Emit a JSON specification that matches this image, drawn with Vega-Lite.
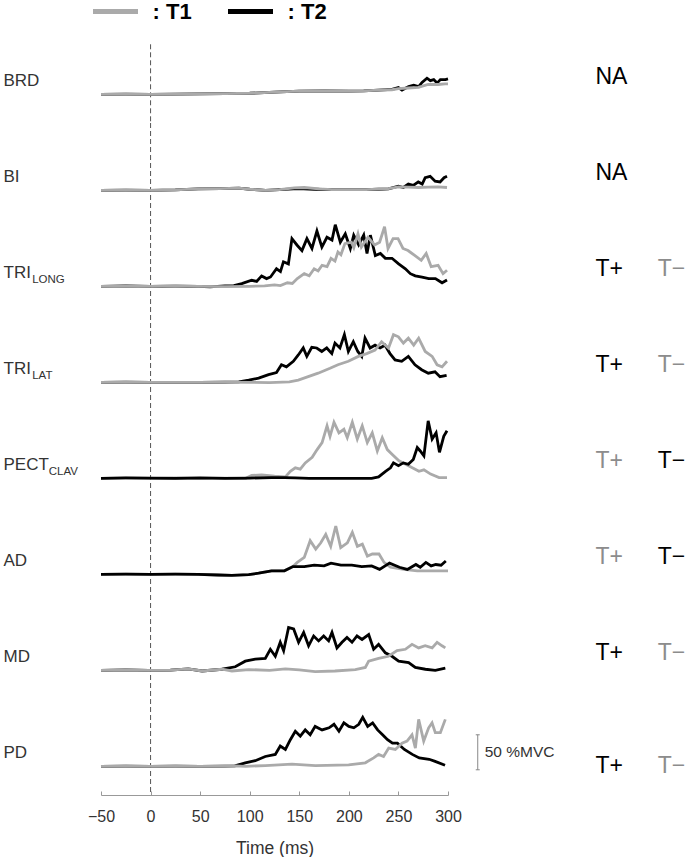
{
"$schema":"https://vega.github.io/schema/vega-lite/v6.json",
"padding":{"left":3,"top":0,"right":0,"bottom":0},
"autosize":{"type":"pad"},
"bounds":"flush",
"config":{"view":{"stroke":null},"font":"Liberation Sans","axis":{"grid":false},
"axisX":{"title":"Time (ms)","values":[-50,0,50,100,150,200,250,300],"labelFlush":false,"domainColor":"#999","tickColor":"#999","tickSize":-4,"labelPadding":17,"labelFontSize":16,"labelColor":"#333","titleFontSize":17.5,"titleFontWeight":"normal","titleColor":"#333","titlePadding":15}},
"data":{"values":[
{"m":"BRD","name":"BRD","r1":"NA","c1":"T2"},
{"m":"BI","name":"BI","r1":"NA","c1":"T2"},
{"m":"TRI_LONG","name":"TRI","sub":"LONG","r1":"T+","c1":"T2","r2":"T−","c2":"T1"},
{"m":"TRI_LAT","name":"TRI","sub":"LAT","r1":"T+","c1":"T2","r2":"T−","c2":"T1"},
{"m":"PECT","name":"PECT","sub":"CLAV","r1":"T+","c1":"T1","r2":"T−","c2":"T2"},
{"m":"AD","name":"AD","r1":"T+","c1":"T1","r2":"T−","c2":"T2"},
{"m":"MD","name":"MD","r1":"T+","c1":"T2","r2":"T−","c2":"T1"},
{"m":"PD","name":"PD","r1":"T+","c1":"T2","r2":"T−","c2":"T1"},
{"m":"BRD","s":"T2","t":-50,"v":0},{"m":"BRD","s":"T2","t":-25,"v":0.3},{"m":"BRD","s":"T2","t":0,"v":0},{"m":"BRD","s":"T2","t":25,"v":0.2},{"m":"BRD","s":"T2","t":50,"v":0.5},{"m":"BRD","s":"T2","t":75,"v":1},{"m":"BRD","s":"T2","t":100,"v":1.5},{"m":"BRD","s":"T2","t":125,"v":3},{"m":"BRD","s":"T2","t":150,"v":4.5},{"m":"BRD","s":"T2","t":175,"v":5},{"m":"BRD","s":"T2","t":200,"v":4.5},{"m":"BRD","s":"T2","t":215,"v":5},{"m":"BRD","s":"T2","t":230,"v":6},{"m":"BRD","s":"T2","t":243.5,"v":7},{"m":"BRD","s":"T2","t":250,"v":9.5},{"m":"BRD","s":"T2","t":253.6,"v":6},{"m":"BRD","s":"T2","t":260.3,"v":11},{"m":"BRD","s":"T2","t":265.4,"v":13},{"m":"BRD","s":"T2","t":270.4,"v":11},{"m":"BRD","s":"T2","t":273.8,"v":17},{"m":"BRD","s":"T2","t":278.8,"v":23},{"m":"BRD","s":"T2","t":282.2,"v":19.5},{"m":"BRD","s":"T2","t":285.6,"v":21},{"m":"BRD","s":"T2","t":289,"v":16},{"m":"BRD","s":"T2","t":292.3,"v":21},{"m":"BRD","s":"T2","t":297.4,"v":21},{"m":"BRD","s":"T2","t":300,"v":22},
{"m":"BRD","s":"T1","t":-50,"v":0},{"m":"BRD","s":"T1","t":-25,"v":0.3},{"m":"BRD","s":"T1","t":0,"v":0},{"m":"BRD","s":"T1","t":25,"v":0.2},{"m":"BRD","s":"T1","t":50,"v":0.5},{"m":"BRD","s":"T1","t":75,"v":1},{"m":"BRD","s":"T1","t":100,"v":1.5},{"m":"BRD","s":"T1","t":125,"v":3},{"m":"BRD","s":"T1","t":150,"v":4.5},{"m":"BRD","s":"T1","t":175,"v":5},{"m":"BRD","s":"T1","t":200,"v":4.5},{"m":"BRD","s":"T1","t":215,"v":5},{"m":"BRD","s":"T1","t":230,"v":6},{"m":"BRD","s":"T1","t":243.5,"v":6.5},{"m":"BRD","s":"T1","t":250,"v":8},{"m":"BRD","s":"T1","t":260,"v":9},{"m":"BRD","s":"T1","t":270,"v":10},{"m":"BRD","s":"T1","t":280,"v":14},{"m":"BRD","s":"T1","t":290,"v":14},{"m":"BRD","s":"T1","t":297,"v":15},{"m":"BRD","s":"T1","t":300,"v":15},
{"m":"BI","s":"T2","t":-50,"v":0},{"m":"BI","s":"T2","t":-25,"v":0.3},{"m":"BI","s":"T2","t":0,"v":0},{"m":"BI","s":"T2","t":25,"v":0.5},{"m":"BI","s":"T2","t":48,"v":2},{"m":"BI","s":"T2","t":70,"v":2.5},{"m":"BI","s":"T2","t":89,"v":3},{"m":"BI","s":"T2","t":100,"v":1.5},{"m":"BI","s":"T2","t":116,"v":0},{"m":"BI","s":"T2","t":130,"v":1},{"m":"BI","s":"T2","t":149,"v":2.4},{"m":"BI","s":"T2","t":165,"v":1.5},{"m":"BI","s":"T2","t":183,"v":1},{"m":"BI","s":"T2","t":200,"v":1},{"m":"BI","s":"T2","t":217,"v":1},{"m":"BI","s":"T2","t":230,"v":1.5},{"m":"BI","s":"T2","t":240,"v":2},{"m":"BI","s":"T2","t":250,"v":6},{"m":"BI","s":"T2","t":255,"v":4},{"m":"BI","s":"T2","t":260,"v":9},{"m":"BI","s":"T2","t":265,"v":7},{"m":"BI","s":"T2","t":270,"v":12},{"m":"BI","s":"T2","t":274,"v":9},{"m":"BI","s":"T2","t":277,"v":18},{"m":"BI","s":"T2","t":282,"v":20},{"m":"BI","s":"T2","t":287,"v":13},{"m":"BI","s":"T2","t":292,"v":12},{"m":"BI","s":"T2","t":296,"v":18},{"m":"BI","s":"T2","t":299,"v":20},
{"m":"BI","s":"T1","t":-50,"v":0},{"m":"BI","s":"T1","t":-25,"v":0.3},{"m":"BI","s":"T1","t":0,"v":0},{"m":"BI","s":"T1","t":25,"v":0.5},{"m":"BI","s":"T1","t":48,"v":2},{"m":"BI","s":"T1","t":70,"v":2.5},{"m":"BI","s":"T1","t":89,"v":3},{"m":"BI","s":"T1","t":100,"v":1.5},{"m":"BI","s":"T1","t":116,"v":0},{"m":"BI","s":"T1","t":130,"v":1},{"m":"BI","s":"T1","t":145,"v":3.5},{"m":"BI","s":"T1","t":155,"v":4},{"m":"BI","s":"T1","t":170,"v":2},{"m":"BI","s":"T1","t":183,"v":1},{"m":"BI","s":"T1","t":200,"v":1},{"m":"BI","s":"T1","t":217,"v":1},{"m":"BI","s":"T1","t":240,"v":2.5},{"m":"BI","s":"T1","t":250,"v":5},{"m":"BI","s":"T1","t":260,"v":4.5},{"m":"BI","s":"T1","t":270,"v":4},{"m":"BI","s":"T1","t":280,"v":4.5},{"m":"BI","s":"T1","t":290,"v":5},{"m":"BI","s":"T1","t":299,"v":4},
{"m":"TRI_LONG","s":"T2","t":-50,"v":0},{"m":"TRI_LONG","s":"T2","t":-25,"v":0.5},{"m":"TRI_LONG","s":"T2","t":0,"v":0},{"m":"TRI_LONG","s":"T2","t":25,"v":0.3},{"m":"TRI_LONG","s":"T2","t":48,"v":0},{"m":"TRI_LONG","s":"T2","t":60,"v":-0.8},{"m":"TRI_LONG","s":"T2","t":75,"v":0.5},{"m":"TRI_LONG","s":"T2","t":84,"v":1},{"m":"TRI_LONG","s":"T2","t":92,"v":3.8},{"m":"TRI_LONG","s":"T2","t":102,"v":8.6},{"m":"TRI_LONG","s":"T2","t":107,"v":7},{"m":"TRI_LONG","s":"T2","t":112,"v":14.8},{"m":"TRI_LONG","s":"T2","t":117,"v":11},{"m":"TRI_LONG","s":"T2","t":121,"v":13.3},{"m":"TRI_LONG","s":"T2","t":127,"v":25},{"m":"TRI_LONG","s":"T2","t":131,"v":21},{"m":"TRI_LONG","s":"T2","t":134,"v":35},{"m":"TRI_LONG","s":"T2","t":139,"v":32},{"m":"TRI_LONG","s":"T2","t":142.6,"v":68},{"m":"TRI_LONG","s":"T2","t":147.6,"v":59},{"m":"TRI_LONG","s":"T2","t":152.7,"v":51},{"m":"TRI_LONG","s":"T2","t":157.7,"v":68},{"m":"TRI_LONG","s":"T2","t":162.8,"v":54},{"m":"TRI_LONG","s":"T2","t":167.8,"v":79},{"m":"TRI_LONG","s":"T2","t":172.8,"v":56},{"m":"TRI_LONG","s":"T2","t":177.9,"v":70},{"m":"TRI_LONG","s":"T2","t":183,"v":66},{"m":"TRI_LONG","s":"T2","t":186.3,"v":88},{"m":"TRI_LONG","s":"T2","t":191.4,"v":63},{"m":"TRI_LONG","s":"T2","t":196.4,"v":75},{"m":"TRI_LONG","s":"T2","t":201.5,"v":54},{"m":"TRI_LONG","s":"T2","t":204.9,"v":73},{"m":"TRI_LONG","s":"T2","t":209.9,"v":59},{"m":"TRI_LONG","s":"T2","t":215,"v":73},{"m":"TRI_LONG","s":"T2","t":218.3,"v":47},{"m":"TRI_LONG","s":"T2","t":221.7,"v":73},{"m":"TRI_LONG","s":"T2","t":226.7,"v":44},{"m":"TRI_LONG","s":"T2","t":231.8,"v":47},{"m":"TRI_LONG","s":"T2","t":236.8,"v":40},{"m":"TRI_LONG","s":"T2","t":243.5,"v":40},{"m":"TRI_LONG","s":"T2","t":250.2,"v":32},{"m":"TRI_LONG","s":"T2","t":257,"v":25},{"m":"TRI_LONG","s":"T2","t":262,"v":18},{"m":"TRI_LONG","s":"T2","t":267,"v":15},{"m":"TRI_LONG","s":"T2","t":273.8,"v":13},{"m":"TRI_LONG","s":"T2","t":280.6,"v":11},{"m":"TRI_LONG","s":"T2","t":287.3,"v":11},{"m":"TRI_LONG","s":"T2","t":294,"v":5},{"m":"TRI_LONG","s":"T2","t":299,"v":9},
{"m":"TRI_LONG","s":"T1","t":-50,"v":0},{"m":"TRI_LONG","s":"T1","t":-25,"v":0.3},{"m":"TRI_LONG","s":"T1","t":0,"v":0},{"m":"TRI_LONG","s":"T1","t":25,"v":0.5},{"m":"TRI_LONG","s":"T1","t":48,"v":0},{"m":"TRI_LONG","s":"T1","t":75,"v":-0.5},{"m":"TRI_LONG","s":"T1","t":100,"v":0},{"m":"TRI_LONG","s":"T1","t":115,"v":0.5},{"m":"TRI_LONG","s":"T1","t":125,"v":2},{"m":"TRI_LONG","s":"T1","t":131,"v":1},{"m":"TRI_LONG","s":"T1","t":138,"v":5},{"m":"TRI_LONG","s":"T1","t":143,"v":4},{"m":"TRI_LONG","s":"T1","t":148,"v":11},{"m":"TRI_LONG","s":"T1","t":155,"v":18},{"m":"TRI_LONG","s":"T1","t":160,"v":15},{"m":"TRI_LONG","s":"T1","t":165,"v":25},{"m":"TRI_LONG","s":"T1","t":169,"v":22},{"m":"TRI_LONG","s":"T1","t":173,"v":30},{"m":"TRI_LONG","s":"T1","t":178,"v":28},{"m":"TRI_LONG","s":"T1","t":182,"v":40},{"m":"TRI_LONG","s":"T1","t":186,"v":36},{"m":"TRI_LONG","s":"T1","t":189,"v":49},{"m":"TRI_LONG","s":"T1","t":192,"v":45},{"m":"TRI_LONG","s":"T1","t":196,"v":61},{"m":"TRI_LONG","s":"T1","t":202.5,"v":63},{"m":"TRI_LONG","s":"T1","t":205,"v":55},{"m":"TRI_LONG","s":"T1","t":209.2,"v":75},{"m":"TRI_LONG","s":"T1","t":212.6,"v":56},{"m":"TRI_LONG","s":"T1","t":219.3,"v":70},{"m":"TRI_LONG","s":"T1","t":226,"v":59},{"m":"TRI_LONG","s":"T1","t":231,"v":63},{"m":"TRI_LONG","s":"T1","t":236,"v":85},{"m":"TRI_LONG","s":"T1","t":239.5,"v":54},{"m":"TRI_LONG","s":"T1","t":244.6,"v":68},{"m":"TRI_LONG","s":"T1","t":249.6,"v":68},{"m":"TRI_LONG","s":"T1","t":254.6,"v":54},{"m":"TRI_LONG","s":"T1","t":259.7,"v":51},{"m":"TRI_LONG","s":"T1","t":266.4,"v":44},{"m":"TRI_LONG","s":"T1","t":273,"v":37},{"m":"TRI_LONG","s":"T1","t":278,"v":47},{"m":"TRI_LONG","s":"T1","t":283,"v":28},{"m":"TRI_LONG","s":"T1","t":290,"v":30},{"m":"TRI_LONG","s":"T1","t":295,"v":18},{"m":"TRI_LONG","s":"T1","t":299,"v":23},
{"m":"TRI_LAT","s":"T2","t":-50,"v":0},{"m":"TRI_LAT","s":"T2","t":-25,"v":0.3},{"m":"TRI_LAT","s":"T2","t":0,"v":0},{"m":"TRI_LAT","s":"T2","t":25,"v":0},{"m":"TRI_LAT","s":"T2","t":50,"v":0},{"m":"TRI_LAT","s":"T2","t":75,"v":0.3},{"m":"TRI_LAT","s":"T2","t":89,"v":0.5},{"m":"TRI_LAT","s":"T2","t":99,"v":3},{"m":"TRI_LAT","s":"T2","t":109,"v":6},{"m":"TRI_LAT","s":"T2","t":119,"v":11},{"m":"TRI_LAT","s":"T2","t":127,"v":14},{"m":"TRI_LAT","s":"T2","t":132,"v":25},{"m":"TRI_LAT","s":"T2","t":137,"v":22},{"m":"TRI_LAT","s":"T2","t":144,"v":30},{"m":"TRI_LAT","s":"T2","t":149,"v":39},{"m":"TRI_LAT","s":"T2","t":154,"v":49},{"m":"TRI_LAT","s":"T2","t":157.6,"v":37},{"m":"TRI_LAT","s":"T2","t":162.6,"v":50},{"m":"TRI_LAT","s":"T2","t":167.6,"v":49},{"m":"TRI_LAT","s":"T2","t":172.7,"v":44},{"m":"TRI_LAT","s":"T2","t":177.7,"v":49},{"m":"TRI_LAT","s":"T2","t":182.8,"v":41},{"m":"TRI_LAT","s":"T2","t":186,"v":56},{"m":"TRI_LAT","s":"T2","t":191,"v":49},{"m":"TRI_LAT","s":"T2","t":195.5,"v":68},{"m":"TRI_LAT","s":"T2","t":199.5,"v":44},{"m":"TRI_LAT","s":"T2","t":204.5,"v":58},{"m":"TRI_LAT","s":"T2","t":209,"v":44},{"m":"TRI_LAT","s":"T2","t":213,"v":37},{"m":"TRI_LAT","s":"T2","t":216.3,"v":63},{"m":"TRI_LAT","s":"T2","t":221.4,"v":49},{"m":"TRI_LAT","s":"T2","t":226.4,"v":53},{"m":"TRI_LAT","s":"T2","t":231.5,"v":49},{"m":"TRI_LAT","s":"T2","t":236.5,"v":53},{"m":"TRI_LAT","s":"T2","t":241.5,"v":41},{"m":"TRI_LAT","s":"T2","t":246.6,"v":32},{"m":"TRI_LAT","s":"T2","t":253.3,"v":30},{"m":"TRI_LAT","s":"T2","t":260,"v":37},{"m":"TRI_LAT","s":"T2","t":266.7,"v":25},{"m":"TRI_LAT","s":"T2","t":273.4,"v":18},{"m":"TRI_LAT","s":"T2","t":280.1,"v":13},{"m":"TRI_LAT","s":"T2","t":286.9,"v":15},{"m":"TRI_LAT","s":"T2","t":291.9,"v":8},{"m":"TRI_LAT","s":"T2","t":298.6,"v":10},
{"m":"TRI_LAT","s":"T1","t":-50,"v":0},{"m":"TRI_LAT","s":"T1","t":-25,"v":0.3},{"m":"TRI_LAT","s":"T1","t":0,"v":0},{"m":"TRI_LAT","s":"T1","t":25,"v":0},{"m":"TRI_LAT","s":"T1","t":50,"v":0},{"m":"TRI_LAT","s":"T1","t":75,"v":0.3},{"m":"TRI_LAT","s":"T1","t":100,"v":0},{"m":"TRI_LAT","s":"T1","t":120,"v":-0.5},{"m":"TRI_LAT","s":"T1","t":140,"v":0.5},{"m":"TRI_LAT","s":"T1","t":149,"v":3},{"m":"TRI_LAT","s":"T1","t":159,"v":8},{"m":"TRI_LAT","s":"T1","t":169,"v":13},{"m":"TRI_LAT","s":"T1","t":181,"v":20},{"m":"TRI_LAT","s":"T1","t":189,"v":25},{"m":"TRI_LAT","s":"T1","t":199.5,"v":30},{"m":"TRI_LAT","s":"T1","t":209.6,"v":37},{"m":"TRI_LAT","s":"T1","t":218,"v":41},{"m":"TRI_LAT","s":"T1","t":226.4,"v":46},{"m":"TRI_LAT","s":"T1","t":233,"v":58},{"m":"TRI_LAT","s":"T1","t":240,"v":49},{"m":"TRI_LAT","s":"T1","t":245,"v":68},{"m":"TRI_LAT","s":"T1","t":250,"v":65},{"m":"TRI_LAT","s":"T1","t":255,"v":56},{"m":"TRI_LAT","s":"T1","t":260,"v":63},{"m":"TRI_LAT","s":"T1","t":265.4,"v":53},{"m":"TRI_LAT","s":"T1","t":270.4,"v":63},{"m":"TRI_LAT","s":"T1","t":277,"v":44},{"m":"TRI_LAT","s":"T1","t":284,"v":37},{"m":"TRI_LAT","s":"T1","t":289,"v":25},{"m":"TRI_LAT","s":"T1","t":294,"v":22},{"m":"TRI_LAT","s":"T1","t":299,"v":30},
{"m":"PECT","s":"T1","t":-50,"v":0},{"m":"PECT","s":"T1","t":-25,"v":0.3},{"m":"PECT","s":"T1","t":0,"v":0},{"m":"PECT","s":"T1","t":25,"v":0.4},{"m":"PECT","s":"T1","t":50,"v":0},{"m":"PECT","s":"T1","t":75,"v":0.3},{"m":"PECT","s":"T1","t":96,"v":0},{"m":"PECT","s":"T1","t":102,"v":4},{"m":"PECT","s":"T1","t":112,"v":5},{"m":"PECT","s":"T1","t":125,"v":3},{"m":"PECT","s":"T1","t":136,"v":2},{"m":"PECT","s":"T1","t":141,"v":10},{"m":"PECT","s":"T1","t":146,"v":15},{"m":"PECT","s":"T1","t":151,"v":13},{"m":"PECT","s":"T1","t":156,"v":22},{"m":"PECT","s":"T1","t":163,"v":30},{"m":"PECT","s":"T1","t":168,"v":41},{"m":"PECT","s":"T1","t":173,"v":51},{"m":"PECT","s":"T1","t":178,"v":75},{"m":"PECT","s":"T1","t":181,"v":60},{"m":"PECT","s":"T1","t":185,"v":80},{"m":"PECT","s":"T1","t":190,"v":65},{"m":"PECT","s":"T1","t":195,"v":70},{"m":"PECT","s":"T1","t":198.4,"v":58},{"m":"PECT","s":"T1","t":203.5,"v":80},{"m":"PECT","s":"T1","t":208.5,"v":56},{"m":"PECT","s":"T1","t":213.5,"v":75},{"m":"PECT","s":"T1","t":218.6,"v":51},{"m":"PECT","s":"T1","t":223.6,"v":65},{"m":"PECT","s":"T1","t":228.7,"v":39},{"m":"PECT","s":"T1","t":233.7,"v":58},{"m":"PECT","s":"T1","t":238.8,"v":41},{"m":"PECT","s":"T1","t":243.8,"v":34},{"m":"PECT","s":"T1","t":250.5,"v":25},{"m":"PECT","s":"T1","t":257.3,"v":20},{"m":"PECT","s":"T1","t":264,"v":15},{"m":"PECT","s":"T1","t":270.7,"v":10},{"m":"PECT","s":"T1","t":275.7,"v":12},{"m":"PECT","s":"T1","t":282.5,"v":6},{"m":"PECT","s":"T1","t":291,"v":1},{"m":"PECT","s":"T1","t":299,"v":1},
{"m":"PECT","s":"T2","t":-50,"v":0},{"m":"PECT","s":"T2","t":-25,"v":0.5},{"m":"PECT","s":"T2","t":0,"v":0.3},{"m":"PECT","s":"T2","t":25,"v":0},{"m":"PECT","s":"T2","t":50,"v":0.5},{"m":"PECT","s":"T2","t":75,"v":0},{"m":"PECT","s":"T2","t":100,"v":0.3},{"m":"PECT","s":"T2","t":122,"v":1},{"m":"PECT","s":"T2","t":135,"v":1},{"m":"PECT","s":"T2","t":146,"v":0.5},{"m":"PECT","s":"T2","t":160,"v":0},{"m":"PECT","s":"T2","t":190,"v":0},{"m":"PECT","s":"T2","t":223,"v":0},{"m":"PECT","s":"T2","t":230,"v":2},{"m":"PECT","s":"T2","t":237,"v":10},{"m":"PECT","s":"T2","t":242,"v":15},{"m":"PECT","s":"T2","t":245,"v":22},{"m":"PECT","s":"T2","t":250,"v":18},{"m":"PECT","s":"T2","t":255,"v":22},{"m":"PECT","s":"T2","t":260,"v":20},{"m":"PECT","s":"T2","t":265,"v":27},{"m":"PECT","s":"T2","t":269,"v":44},{"m":"PECT","s":"T2","t":272,"v":39},{"m":"PECT","s":"T2","t":275.7,"v":32},{"m":"PECT","s":"T2","t":280,"v":82},{"m":"PECT","s":"T2","t":284,"v":56},{"m":"PECT","s":"T2","t":288,"v":65},{"m":"PECT","s":"T2","t":291.4,"v":37},{"m":"PECT","s":"T2","t":295.7,"v":60},{"m":"PECT","s":"T2","t":299,"v":68},
{"m":"AD","s":"T1","t":-50,"v":0},{"m":"AD","s":"T1","t":-25,"v":0.3},{"m":"AD","s":"T1","t":0,"v":0},{"m":"AD","s":"T1","t":25,"v":0.3},{"m":"AD","s":"T1","t":48,"v":0},{"m":"AD","s":"T1","t":68,"v":-1},{"m":"AD","s":"T1","t":82,"v":-1.5},{"m":"AD","s":"T1","t":99,"v":-0.5},{"m":"AD","s":"T1","t":109,"v":1.5},{"m":"AD","s":"T1","t":122,"v":5},{"m":"AD","s":"T1","t":135,"v":5},{"m":"AD","s":"T1","t":143.6,"v":11},{"m":"AD","s":"T1","t":148,"v":17},{"m":"AD","s":"T1","t":155,"v":24},{"m":"AD","s":"T1","t":161,"v":48},{"m":"AD","s":"T1","t":166.6,"v":36},{"m":"AD","s":"T1","t":171.7,"v":45},{"m":"AD","s":"T1","t":176.7,"v":57},{"m":"AD","s":"T1","t":181.7,"v":40},{"m":"AD","s":"T1","t":186.8,"v":69},{"m":"AD","s":"T1","t":191.8,"v":38},{"m":"AD","s":"T1","t":198.5,"v":45},{"m":"AD","s":"T1","t":203.5,"v":60},{"m":"AD","s":"T1","t":208.6,"v":40},{"m":"AD","s":"T1","t":213.6,"v":43},{"m":"AD","s":"T1","t":218.7,"v":26},{"m":"AD","s":"T1","t":223.7,"v":29},{"m":"AD","s":"T1","t":230.4,"v":29},{"m":"AD","s":"T1","t":235.5,"v":17},{"m":"AD","s":"T1","t":242,"v":10},{"m":"AD","s":"T1","t":255.5,"v":7},{"m":"AD","s":"T1","t":269,"v":5},{"m":"AD","s":"T1","t":282.5,"v":5},{"m":"AD","s":"T1","t":296,"v":5},{"m":"AD","s":"T1","t":300,"v":5},
{"m":"AD","s":"T2","t":-50,"v":0},{"m":"AD","s":"T2","t":-25,"v":0.3},{"m":"AD","s":"T2","t":0,"v":0},{"m":"AD","s":"T2","t":25,"v":0.3},{"m":"AD","s":"T2","t":48,"v":0},{"m":"AD","s":"T2","t":68,"v":-1},{"m":"AD","s":"T2","t":82,"v":-1.5},{"m":"AD","s":"T2","t":99,"v":-0.5},{"m":"AD","s":"T2","t":109,"v":1.5},{"m":"AD","s":"T2","t":122,"v":5},{"m":"AD","s":"T2","t":135,"v":5},{"m":"AD","s":"T2","t":143.6,"v":11},{"m":"AD","s":"T2","t":155,"v":11},{"m":"AD","s":"T2","t":165,"v":13},{"m":"AD","s":"T2","t":175,"v":12},{"m":"AD","s":"T2","t":182,"v":16},{"m":"AD","s":"T2","t":192,"v":13},{"m":"AD","s":"T2","t":203,"v":13},{"m":"AD","s":"T2","t":213,"v":11},{"m":"AD","s":"T2","t":223,"v":12},{"m":"AD","s":"T2","t":231,"v":7},{"m":"AD","s":"T2","t":241,"v":16},{"m":"AD","s":"T2","t":251,"v":10},{"m":"AD","s":"T2","t":259,"v":7},{"m":"AD","s":"T2","t":267.6,"v":14},{"m":"AD","s":"T2","t":272,"v":10},{"m":"AD","s":"T2","t":277.7,"v":17},{"m":"AD","s":"T2","t":283,"v":12},{"m":"AD","s":"T2","t":287.7,"v":14},{"m":"AD","s":"T2","t":293,"v":13},{"m":"AD","s":"T2","t":297.8,"v":19},
{"m":"MD","s":"T2","t":-50,"v":0},{"m":"MD","s":"T2","t":-25,"v":0.5},{"m":"MD","s":"T2","t":-2,"v":0},{"m":"MD","s":"T2","t":20,"v":0.3},{"m":"MD","s":"T2","t":38,"v":2},{"m":"MD","s":"T2","t":52,"v":-1},{"m":"MD","s":"T2","t":72,"v":1.5},{"m":"MD","s":"T2","t":85.4,"v":5},{"m":"MD","s":"T2","t":95.5,"v":13},{"m":"MD","s":"T2","t":105.6,"v":16},{"m":"MD","s":"T2","t":115.7,"v":17},{"m":"MD","s":"T2","t":120.8,"v":30},{"m":"MD","s":"T2","t":125.8,"v":20},{"m":"MD","s":"T2","t":130.8,"v":40},{"m":"MD","s":"T2","t":134.2,"v":28},{"m":"MD","s":"T2","t":139.2,"v":61},{"m":"MD","s":"T2","t":144.3,"v":59},{"m":"MD","s":"T2","t":149.3,"v":40},{"m":"MD","s":"T2","t":154.4,"v":54},{"m":"MD","s":"T2","t":159.4,"v":35},{"m":"MD","s":"T2","t":164.5,"v":49},{"m":"MD","s":"T2","t":169.5,"v":42},{"m":"MD","s":"T2","t":174.6,"v":49},{"m":"MD","s":"T2","t":179.6,"v":42},{"m":"MD","s":"T2","t":183,"v":54},{"m":"MD","s":"T2","t":188,"v":32},{"m":"MD","s":"T2","t":193.1,"v":40},{"m":"MD","s":"T2","t":198.1,"v":47},{"m":"MD","s":"T2","t":203.2,"v":40},{"m":"MD","s":"T2","t":208.2,"v":49},{"m":"MD","s":"T2","t":213.3,"v":44},{"m":"MD","s":"T2","t":220,"v":51},{"m":"MD","s":"T2","t":225,"v":30},{"m":"MD","s":"T2","t":230,"v":37},{"m":"MD","s":"T2","t":236.8,"v":25},{"m":"MD","s":"T2","t":243.5,"v":20},{"m":"MD","s":"T2","t":250.2,"v":13},{"m":"MD","s":"T2","t":260.3,"v":11},{"m":"MD","s":"T2","t":267,"v":4},{"m":"MD","s":"T2","t":277.2,"v":1.5},{"m":"MD","s":"T2","t":287.2,"v":0},{"m":"MD","s":"T2","t":297.3,"v":3},
{"m":"MD","s":"T1","t":-50,"v":0},{"m":"MD","s":"T1","t":-25,"v":0.5},{"m":"MD","s":"T1","t":-2,"v":0},{"m":"MD","s":"T1","t":20,"v":0.3},{"m":"MD","s":"T1","t":38,"v":2},{"m":"MD","s":"T1","t":52,"v":-1},{"m":"MD","s":"T1","t":72,"v":1.5},{"m":"MD","s":"T1","t":82,"v":-1},{"m":"MD","s":"T1","t":99,"v":1},{"m":"MD","s":"T1","t":120,"v":0},{"m":"MD","s":"T1","t":136,"v":2},{"m":"MD","s":"T1","t":150,"v":0.5},{"m":"MD","s":"T1","t":166,"v":-2},{"m":"MD","s":"T1","t":186,"v":-1},{"m":"MD","s":"T1","t":206.5,"v":1},{"m":"MD","s":"T1","t":216.6,"v":4},{"m":"MD","s":"T1","t":220,"v":13},{"m":"MD","s":"T1","t":230,"v":17},{"m":"MD","s":"T1","t":240,"v":20},{"m":"MD","s":"T1","t":248.6,"v":28},{"m":"MD","s":"T1","t":257,"v":30},{"m":"MD","s":"T1","t":263.7,"v":37},{"m":"MD","s":"T1","t":270.4,"v":32},{"m":"MD","s":"T1","t":277,"v":35},{"m":"MD","s":"T1","t":284,"v":32},{"m":"MD","s":"T1","t":289,"v":40},{"m":"MD","s":"T1","t":294,"v":35},{"m":"MD","s":"T1","t":297.3,"v":32},
{"m":"PD","s":"T2","t":-50,"v":0},{"m":"PD","s":"T2","t":-25,"v":0.3},{"m":"PD","s":"T2","t":0,"v":0},{"m":"PD","s":"T2","t":25,"v":0.3},{"m":"PD","s":"T2","t":50,"v":0},{"m":"PD","s":"T2","t":75,"v":0.3},{"m":"PD","s":"T2","t":85,"v":0.5},{"m":"PD","s":"T2","t":95.5,"v":5},{"m":"PD","s":"T2","t":105.6,"v":8},{"m":"PD","s":"T2","t":115.7,"v":14},{"m":"PD","s":"T2","t":125.8,"v":17},{"m":"PD","s":"T2","t":130.8,"v":29},{"m":"PD","s":"T2","t":136,"v":24},{"m":"PD","s":"T2","t":141,"v":38},{"m":"PD","s":"T2","t":146,"v":50},{"m":"PD","s":"T2","t":151,"v":43},{"m":"PD","s":"T2","t":156,"v":52},{"m":"PD","s":"T2","t":161,"v":45},{"m":"PD","s":"T2","t":166,"v":57},{"m":"PD","s":"T2","t":173,"v":52},{"m":"PD","s":"T2","t":180,"v":55},{"m":"PD","s":"T2","t":185,"v":60},{"m":"PD","s":"T2","t":190,"v":50},{"m":"PD","s":"T2","t":195,"v":62},{"m":"PD","s":"T2","t":200,"v":57},{"m":"PD","s":"T2","t":205,"v":55},{"m":"PD","s":"T2","t":210,"v":60},{"m":"PD","s":"T2","t":214,"v":70},{"m":"PD","s":"T2","t":219,"v":57},{"m":"PD","s":"T2","t":224,"v":62},{"m":"PD","s":"T2","t":229,"v":52},{"m":"PD","s":"T2","t":234,"v":45},{"m":"PD","s":"T2","t":239,"v":38},{"m":"PD","s":"T2","t":244,"v":33},{"m":"PD","s":"T2","t":249,"v":33},{"m":"PD","s":"T2","t":256,"v":24},{"m":"PD","s":"T2","t":264,"v":17},{"m":"PD","s":"T2","t":271,"v":12},{"m":"PD","s":"T2","t":281,"v":10},{"m":"PD","s":"T2","t":287,"v":7},{"m":"PD","s":"T2","t":297,"v":1.5},
{"m":"PD","s":"T1","t":-50,"v":0},{"m":"PD","s":"T1","t":-25,"v":0.3},{"m":"PD","s":"T1","t":0,"v":0},{"m":"PD","s":"T1","t":25,"v":0.3},{"m":"PD","s":"T1","t":50,"v":0},{"m":"PD","s":"T1","t":75,"v":0.3},{"m":"PD","s":"T1","t":85,"v":0.5},{"m":"PD","s":"T1","t":95.5,"v":0},{"m":"PD","s":"T1","t":115.7,"v":1},{"m":"PD","s":"T1","t":142.6,"v":3},{"m":"PD","s":"T1","t":166.2,"v":1},{"m":"PD","s":"T1","t":199.8,"v":2},{"m":"PD","s":"T1","t":216.6,"v":5},{"m":"PD","s":"T1","t":225,"v":12},{"m":"PD","s":"T1","t":230,"v":17},{"m":"PD","s":"T1","t":235,"v":14},{"m":"PD","s":"T1","t":240.2,"v":26},{"m":"PD","s":"T1","t":246.9,"v":24},{"m":"PD","s":"T1","t":253.6,"v":33},{"m":"PD","s":"T1","t":258.7,"v":36},{"m":"PD","s":"T1","t":263.7,"v":45},{"m":"PD","s":"T1","t":267.1,"v":26},{"m":"PD","s":"T1","t":270.4,"v":67},{"m":"PD","s":"T1","t":275.5,"v":36},{"m":"PD","s":"T1","t":280.5,"v":55},{"m":"PD","s":"T1","t":283.9,"v":62},{"m":"PD","s":"T1","t":287.2,"v":48},{"m":"PD","s":"T1","t":292.3,"v":48},{"m":"PD","s":"T1","t":297.3,"v":67}
]},
"facet":{"row":{"field":"m","type":"nominal","sort":["BRD","BI","TRI_LONG","TRI_LAT","PECT","AD","MD","PD"],"header":{"labels":false},"title":null}},
"spacing":0,
"spec":{
"width":347,"height":95.3,
"layer":[
{"transform":[{"filter":"isValid(datum.name) && datum.m == 'BRD'"}],"mark":{"type":"rule","color":"#555","strokeWidth":1,"strokeDash":[5,3]},"encoding":{"x":{"datum":0,"title":"Time (ms)"},"y":{"datum":71.4,"axis":null},"y2":{"datum":-40}}},
{"transform":[{"filter":"isValid(datum.name) && datum.m != 'BRD'"}],"mark":{"type":"rule","color":"#555","strokeWidth":1,"strokeDash":[5,3]},"encoding":{"x":{"datum":0,"title":"Time (ms)"},"y":{"datum":96.1,"axis":null},"y2":{"datum":-40}}},
{"transform":[{"filter":"isValid(datum.s)"}],"mark":{"type":"line","strokeWidth":2.8},
"encoding":{
"x":{"field":"t","type":"quantitative","title":"Time (ms)","scale":{"domain":[-50,300],"nice":false,"zero":false}},
"y":{"field":"v","type":"quantitative","scale":{"domain":[-40,96.1],"nice":false,"zero":false},"axis":null},
"color":{"field":"s","type":"nominal","scale":{"domain":["T1","T2"],"range":["#aaaaaa","#000000"]},
"legend":{"orient":"none","legendX":3.5,"legendY":-26.5,"direction":"horizontal","title":null,"symbolType":"M-3,0H3","symbolSize":225,"symbolStrokeWidth":5,"labelFontSize":22,"labelFontWeight":"bold","labelOffset":26,"columnPadding":25,"labelExpr":"': ' + datum.label"}}}},
{"transform":[{"filter":"isValid(datum.name)"}],"mark":{"type":"text","align":"left","baseline":"alphabetic","dx":-97.5,"dy":-8,"fontSize":17,"color":"#333"},"encoding":{"x":{"datum":-50,"title":"Time (ms)"},"y":{"datum":0,"axis":null},"text":{"field":"name"}}},
{"transform":[{"filter":"isValid(datum.sub) && datum.name == 'TRI'"}],"mark":{"type":"text","align":"left","baseline":"alphabetic","dx":-68.8,"dy":-3.6,"fontSize":11.5,"color":"#333"},"encoding":{"x":{"datum":-50,"title":"Time (ms)"},"y":{"datum":0,"axis":null},"text":{"field":"sub"}}},
{"transform":[{"filter":"isValid(datum.sub) && datum.name == 'PECT'"}],"mark":{"type":"text","align":"left","baseline":"alphabetic","dx":-52.2,"dy":-3.6,"fontSize":11.5,"color":"#333"},"encoding":{"x":{"datum":-50,"title":"Time (ms)"},"y":{"datum":0,"axis":null},"text":{"field":"sub"}}},
{"transform":[{"filter":"isValid(datum.r1) && datum.m != 'PD'"}],"mark":{"type":"text","align":"left","baseline":"middle","dx":147.5,"fontSize":23},"encoding":{"x":{"datum":300,"title":"Time (ms)"},"y":{"datum":24.3,"axis":null},"text":{"field":"r1"},"color":{"condition":{"test":"datum.c1 == 'T1'","value":"#8c8c8c"},"value":"#000000"}}},
{"transform":[{"filter":"isValid(datum.r2) && datum.m != 'PD'"}],"mark":{"type":"text","align":"left","baseline":"middle","dx":209.8,"fontSize":23},"encoding":{"x":{"datum":300,"title":"Time (ms)"},"y":{"datum":24.3,"axis":null},"text":{"field":"r2"},"color":{"condition":{"test":"datum.c2 == 'T1'","value":"#8c8c8c"},"value":"#000000"}}},
{"transform":[{"filter":"isValid(datum.r1) && datum.m == 'PD'"}],"mark":{"type":"text","align":"left","baseline":"middle","dx":147.5,"fontSize":23},"encoding":{"x":{"datum":300,"title":"Time (ms)"},"y":{"datum":0,"axis":null},"text":{"field":"r1"},"color":{"condition":{"test":"datum.c1 == 'T1'","value":"#8c8c8c"},"value":"#000000"}}},
{"transform":[{"filter":"isValid(datum.r2) && datum.m == 'PD'"}],"mark":{"type":"text","align":"left","baseline":"middle","dx":209.8,"fontSize":23},"encoding":{"x":{"datum":300,"title":"Time (ms)"},"y":{"datum":0,"axis":null},"text":{"field":"r2"},"color":{"condition":{"test":"datum.c2 == 'T1'","value":"#8c8c8c"},"value":"#000000"}}},
{"transform":[{"filter":"isValid(datum.name) && datum.m == 'PD'"}],"mark":{"type":"rule","color":"#888","strokeWidth":1},"encoding":{"x":{"datum":330,"title":"Time (ms)"},"y":{"datum":-5,"axis":null},"y2":{"datum":45}}},
{"transform":[{"filter":"isValid(datum.name) && datum.m == 'PD'"}],"mark":{"type":"rule","color":"#888","strokeWidth":1},"encoding":{"x":{"datum":328,"title":"Time (ms)"},"x2":{"datum":332},"y":{"datum":-5,"axis":null}}},
{"transform":[{"filter":"isValid(datum.name) && datum.m == 'PD'"}],"mark":{"type":"rule","color":"#888","strokeWidth":1},"encoding":{"x":{"datum":328,"title":"Time (ms)"},"x2":{"datum":332},"y":{"datum":45,"axis":null}}},
{"transform":[{"filter":"isValid(datum.name) && datum.m == 'PD'"}],"mark":{"type":"text","align":"left","baseline":"middle","dx":7,"fontSize":15.5,"color":"#333"},"encoding":{"x":{"datum":330,"title":"Time (ms)"},"y":{"datum":20,"axis":null},"text":{"value":"50 %MVC"}}}
]}
}
